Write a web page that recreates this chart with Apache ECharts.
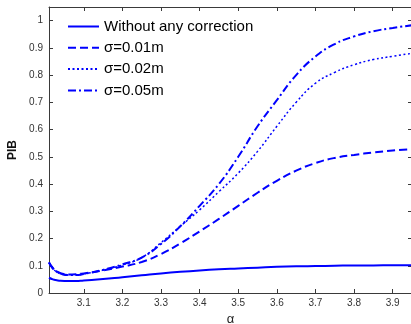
<!DOCTYPE html>
<html>
<head>
<meta charset="utf-8">
<title>PIB vs alpha</title>
<script src="https://cdn.jsdelivr.net/npm/echarts@6/dist/echarts.min.js"></script>
<style>
  html, body { margin: 0; padding: 0; background: #fff; }
  #chart { width: 411px; height: 324px; }
</style>
</head>
<body>
<div id="chart"></div>
<script>
// x values (alpha)
const alphaVals = [3.01, 3.02, 3.03, 3.04, 3.06, 3.08, 3.1, 3.15, 3.2, 3.25, 3.3, 3.35,
  3.4, 3.45, 3.5, 3.55, 3.6, 3.65, 3.7, 3.75, 3.8, 3.85, 3.9, 3.95]

// PIB per case
const noCorrection = [0.056, 0.050, 0.047, 0.045, 0.044, 0.044, 0.046, 0.051, 0.058, 0.065, 0.072, 0.078,
  0.083, 0.087, 0.090, 0.093, 0.096, 0.098, 0.099, 0.100, 0.101, 0.101, 0.102, 0.102]
const sigma001 = [0.112, 0.092, 0.080, 0.073, 0.068, 0.069, 0.072, 0.083, 0.097, 0.114, 0.143, 0.182,
  0.226, 0.272, 0.320, 0.368, 0.412, 0.449, 0.477, 0.496, 0.507, 0.516, 0.523, 0.528]
const sigma002 = [0.112, 0.090, 0.078, 0.071, 0.066, 0.066, 0.070, 0.084, 0.103, 0.130, 0.185, 0.245,
  0.305, 0.372, 0.440, 0.520, 0.612, 0.700, 0.770, 0.810, 0.838, 0.857, 0.869, 0.880]
const sigma005 = [0.112, 0.090, 0.078, 0.071, 0.066, 0.066, 0.070, 0.085, 0.105, 0.130, 0.180, 0.245,
  0.320, 0.400, 0.500, 0.612, 0.708, 0.800, 0.868, 0.914, 0.942, 0.961, 0.973, 0.983]

const seriesNames = ["Without any correction", "\u03c3=0.01m", "\u03c3=0.02m", "\u03c3=0.05m"]

const font = "Liberation Sans, Arial, Helvetica, sans-serif"
const axisColor = "#3a3a3a"
const blue = "#0000ff"

const chart = echarts.init(document.getElementById("chart"), null, { renderer: "canvas" })

const toPairs = (vals) => alphaVals.map((a, i) => [a, vals[i]])

const mkSeries = (name, vals, type, width) => ({
  name,
  type: "line",
  symbol: "none",
  smooth: true,
  data: toPairs(vals),
  lineStyle: { color: blue, width, type },
  itemStyle: { color: blue },
})

const baseX = {
  type: "value",
  min: 3.01,
  max: 3.95,
  splitNumber: 9,
  axisLine: { onZero: false, lineStyle: { color: axisColor, width: 1 } },
  axisTick: { inside: true, length: 4, lineStyle: { color: axisColor } },
  splitLine: { show: false },
}

const baseY = {
  type: "value",
  min: 0,
  max: 1.05,
  interval: 0.1,
  axisLine: { show: true, onZero: false, lineStyle: { color: axisColor, width: 1 } },
  axisTick: { show: true, inside: true, length: 4, lineStyle: { color: axisColor } },
  splitLine: { show: false },
}

chart.setOption({
  animation: false,
  backgroundColor: "#fff",
  textStyle: { fontFamily: font },
  grid: { left: 49, top: 7, right: -1, bottom: 31, containLabel: false, outerBoundsMode: "none" },
  legend: {
    orient: "vertical",
    left: 67,
    top: 19,
    padding: 0,
    itemWidth: 31,
    itemHeight: 14,
    itemGap: 6.3,
    data: seriesNames,
    itemStyle: { opacity: 0 },
    textStyle: { fontFamily: font, fontSize: 15, color: "#000" },
  },
  xAxis: [
    {
      ...baseX,
      position: "bottom",
      name: "\u03b1",
      nameLocation: "middle",
      nameGap: 20,
      nameTextStyle: { fontFamily: font, fontSize: 13, color: "#222" },
      axisLabel: {
        fontFamily: font, fontSize: 10, color: "#333", margin: 5,
        showMinLabel: false, showMaxLabel: false,
      },
    },
    { ...baseX, position: "top", axisLabel: { show: false } },
  ],
  yAxis: [
    {
      ...baseY,
      position: "left",
      name: "PIB",
      nameLocation: "middle",
      nameGap: 26,
      nameTextStyle: { fontFamily: font, fontSize: 12, fontWeight: "bold", color: "#111" },
      axisLabel: {
        fontFamily: font, fontSize: 10, color: "#333", margin: 6,
        showMaxLabel: false,
        formatter: (v) => (v === 0 ? "0" : v === 1 ? "1" : v.toFixed(1)),
      },
    },
    { ...baseY, position: "right", axisLabel: { show: false } },
  ],
  series: [
    mkSeries(seriesNames[0], noCorrection, "solid", 2),
    mkSeries(seriesNames[1], sigma001, [8, 4], 2),
    mkSeries(seriesNames[2], sigma002, [2, 2.5], 1.5),
    mkSeries(seriesNames[3], sigma005, [8, 3, 2, 3], 2),
  ],
})

window.addEventListener("resize", () => chart.resize())
</script>
</body>
</html>
